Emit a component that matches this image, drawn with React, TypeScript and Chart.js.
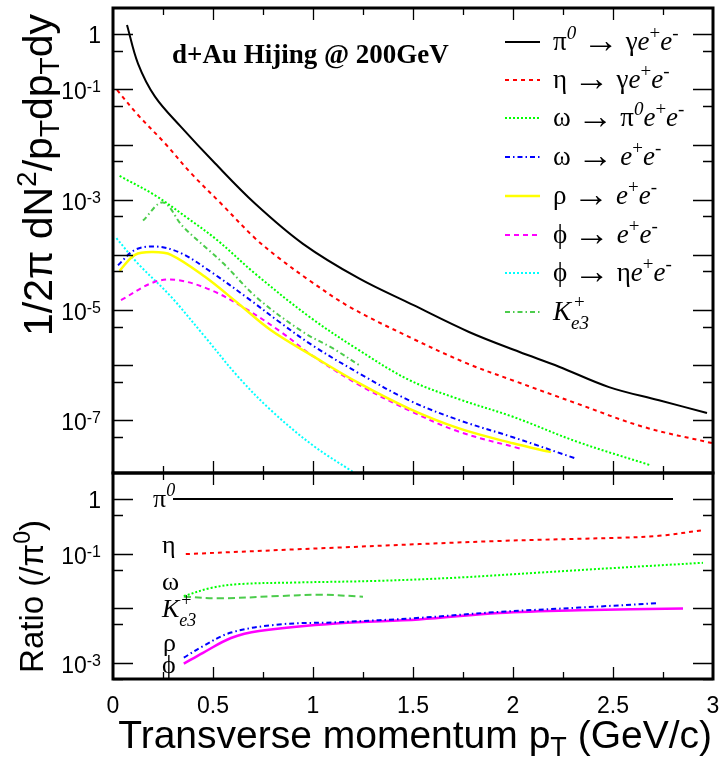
import React, { useEffect, useRef } from 'react';
import { Chart, registerables } from 'chart.js';

Chart.register(...registerables);

// ---------------- data: top panel (yields) ----------------
const pi0Pt = [0.07, 0.125, 0.21, 0.34, 0.51, 0.71, 0.95, 1.23, 1.5, 1.78, 2.03, 2.23, 2.48, 2.73, 2.97];
const pi0Yield = [1.48, 0.295, 0.0741, 0.0209, 4.57e-3, 8.51e-4, 1.58e-4, 3.72e-5, 1.23e-5, 3.98e-6, 1.74e-6, 9.33e-7, 3.98e-7, 2.29e-7, 1.35e-7];

const etaPt = [0.02, 0.125, 0.26, 0.39, 0.54, 0.71, 0.83, 0.98, 1.18, 1.48, 1.77, 2.0, 2.32, 2.65, 3.0];
const etaYield = [0.0977, 0.0343, 0.0105, 3.02e-3, 8.51e-4, 2.0e-4, 8.71e-5, 3.47e-5, 1.15e-5, 3.24e-6, 1.07e-6, 5.25e-7, 2.0e-7, 7.59e-8, 3.8e-8];

const omegaDalitzPt = [0.033, 0.21, 0.375, 0.52, 0.71, 0.98, 1.23, 1.48, 1.73, 2.0, 2.32, 2.69];
const omegaDalitzYield = [2.69e-3, 1.2e-3, 4.57e-4, 1.86e-4, 4.57e-5, 7.59e-6, 1.86e-6, 5.37e-7, 2.4e-7, 1.15e-7, 4.07e-8, 1.51e-8];

const omegaEEPt = [0.025, 0.11, 0.22, 0.34, 0.49, 0.675, 0.84, 1.0, 1.23, 1.48, 1.73, 2.0, 2.31];
const omegaEEYield = [6.46e-5, 1.23e-4, 1.41e-4, 1.07e-4, 4.9e-5, 1.62e-5, 5.75e-6, 2.24e-6, 7.08e-7, 2.29e-7, 1.0e-7, 4.9e-8, 2.04e-8];

const rhoPt = [0.033, 0.11, 0.2, 0.29, 0.46, 0.625, 0.79, 1.0, 1.23, 1.48, 1.73, 2.0, 2.19];
const rhoYield = [5.13e-5, 1.0e-4, 1.12e-4, 1.0e-4, 3.98e-5, 1.32e-5, 4.27e-6, 1.45e-6, 4.68e-7, 1.62e-7, 7.08e-8, 3.8e-8, 2.63e-8];

const phiEEPt = [0.04, 0.21, 0.325, 0.49, 0.66, 0.84, 1.0, 1.23, 1.48, 1.73, 2.04];
const phiEEYield = [1.51e-5, 3.24e-5, 3.47e-5, 2.29e-5, 1.07e-5, 3.98e-6, 1.45e-6, 4.37e-7, 1.51e-7, 6.17e-8, 3.02e-8];

const phiEtaPt = [0.017, 0.125, 0.29, 0.46, 0.625, 0.79, 1.0, 1.2];
const phiEtaYield = [2.0e-4, 6.92e-5, 1.74e-5, 3.24e-6, 6.17e-7, 1.51e-7, 3.47e-8, 1.15e-8];

const ke3Pt = [0.15, 0.25, 0.35, 0.55, 0.72, 0.95, 1.1, 1.23];
const ke3Yield = [4.17e-4, 8.91e-4, 3.24e-4, 7.08e-5, 1.66e-5, 3.98e-6, 2.0e-6, 1.0e-6];

// ---------------- data: bottom panel (ratio to pi0) ----------------
const ratioPi0Pt = [0.3, 2.8];
const ratioPi0 = [1, 1];
const ratioEtaPt = [0.364, 1.13, 1.93, 2.53, 2.73, 2.96];
const ratioEta = [0.0977, 0.129, 0.17, 0.195, 0.211, 0.272];
const ratioOmegaPt = [0.354, 0.49, 0.63, 0.93, 1.33, 1.73, 2.13, 2.53, 2.95];
const ratioOmega = [0.0166, 0.0234, 0.0275, 0.0295, 0.0316, 0.0363, 0.0447, 0.055, 0.0676];
const ratioKe3Pt = [0.354, 0.53, 0.83, 1.03, 1.25];
const ratioKe3 = [0.0162, 0.0151, 0.0166, 0.0176, 0.0162];
const ratioRhoPt = [0.354, 0.45, 0.59, 0.83, 1.13, 1.53, 1.93, 2.33, 2.73];
const ratioRho = [1.23e-3, 2.0e-3, 3.55e-3, 5.01e-3, 5.5e-3, 6.61e-3, 8.51e-3, 0.0102, 0.0123];
const ratioPhiPt = [0.354, 0.45, 0.59, 0.73, 1.13, 1.53, 1.93, 2.33, 2.85];
const ratioPhi = [9.55e-4, 1.51e-3, 2.82e-3, 3.8e-3, 5.25e-3, 6.17e-3, 8.13e-3, 9.12e-3, 9.77e-3];

// axis ranges / labels
const xMin = 0;
const xMax = 3;
const topMin = 1.1e-8;
const topMax = 3;
const ratioMin = 5e-4;
const ratioMax = 3;
const topLabelExps = [0, -1, -3, -5, -7];
const ratioLabelExps = [0, -1, -3];

const SANS = '"Liberation Sans", Arial, sans-serif';
const SERIF = '"Liberation Serif", "Times New Roman", serif';

const C_RED = '#ff0000';
const C_GREEN = '#00ff00';
const C_BLUE = '#0000ff';
const C_YELLOW = '#ffff00';
const C_MAGENTA = '#ff00ff';
const C_CYAN = '#00ffff';
const C_KE3 = '#4ccc4c';

const DASH = [4, 4];
const DASH_M = [5, 4];
const DOT = [2, 2];
const DASHDOT = [5, 3, 1.5, 3];

type Seg = { t: string; f: string; dy?: number; noAdv?: boolean; dx?: number };

function drawRich(ctx: CanvasRenderingContext2D, segs: Seg[], x: number, y: number) {
  let cx = x;
  for (const s of segs) {
    ctx.font = s.f;
    ctx.fillText(s.t, cx + (s.dx || 0), y + (s.dy || 0));
    if (!s.noAdv) cx += ctx.measureText(s.t).width + (s.dx || 0);
  }
  return cx - x;
}
function richWidth(ctx: CanvasRenderingContext2D, segs: Seg[]) {
  let w = 0;
  for (const s of segs) {
    ctx.font = s.f;
    if (!s.noAdv) w += ctx.measureText(s.t).width + (s.dx || 0);
  }
  return w;
}

function mk(xs: number[], ys: number[]) {
  return xs.map((x, i) => ({ x, y: ys[i] }));
}

function ds(label: string, xs: number[], ys: number[], axis: string, color: string, dash: number[], width = 2) {
  return {
    label,
    data: mk(xs, ys),
    yAxisID: axis,
    borderColor: color,
    backgroundColor: color,
    borderDash: dash,
    borderWidth: width,
    pointRadius: 0,
    fill: false,
    tension: 0.35,
    borderCapStyle: 'butt' as const,
  };
}

function logTickVals(min: number, max: number) {
  const out: { v: number; major: boolean }[] = [];
  for (let e = Math.floor(Math.log10(min)) - 1; e <= Math.ceil(Math.log10(max)); e++) {
    for (const m of [1, 5]) {
      const v = m * Math.pow(10, e);
      if (v >= min && v <= max) out.push({ v, major: m === 1 });
    }
  }
  return out;
}

function drawPowLabel(ctx: CanvasRenderingContext2D, exp: number, xr: number, y: number) {
  const big = `23px ${SANS}`;
  const small = `16px ${SANS}`;
  ctx.textAlign = 'left';
  ctx.textBaseline = 'alphabetic';
  ctx.fillStyle = '#000';
  if (exp === 0) {
    ctx.font = big;
    const w = ctx.measureText('1').width;
    ctx.fillText('1', xr - w, y + 9);
    return;
  }
  const sup = String(exp);
  ctx.font = small;
  const ws = ctx.measureText(sup).width;
  ctx.font = big;
  const wb = ctx.measureText('10').width;
  ctx.fillText('10', xr - ws - wb, y + 10);
  ctx.font = small;
  ctx.fillText(sup, xr - ws, y + 3);
}

const decorPlugin = {
  id: 'decor',
  afterDraw(chart: any) {
    const ctx: CanvasRenderingContext2D = chart.ctx;
    const xs = chart.scales.x;
    const yT = chart.scales.yTop;
    const yR = chart.scales.yRatio;
    const L = chart.chartArea.left;
    const R = chart.chartArea.right;
    ctx.save();
    ctx.setLineDash([]);

    // ---- ticks ----
    ctx.strokeStyle = '#000';
    const panels = [
      { s: yT, min: topMin, max: topMax },
      { s: yR, min: ratioMin, max: ratioMax },
    ];
    for (const p of panels) {
      for (const t of logTickVals(p.min, p.max)) {
        const y = Math.round(p.s.getPixelForValue(t.v)) + 0.5;
        const len = t.major ? 20 : 10;
        ctx.lineWidth = 1.3;
        ctx.beginPath();
        ctx.moveTo(L, y);
        ctx.lineTo(L + len, y);
        ctx.moveTo(R, y);
        ctx.lineTo(R - len, y);
        ctx.stroke();
      }
      for (let k = 1; k < 12; k++) {
        const v = k * 0.25;
        const x = Math.round(xs.getPixelForValue(v)) + 0.5;
        const len = k % 2 === 0 ? 12 : 7;
        ctx.lineWidth = 1.3;
        ctx.beginPath();
        ctx.moveTo(x, p.s.top);
        ctx.lineTo(x, p.s.top + len);
        ctx.moveTo(x, p.s.bottom);
        ctx.lineTo(x, p.s.bottom - len);
        ctx.stroke();
      }
    }

    // ---- frames ----
    ctx.lineWidth = 3;
    ctx.strokeRect(L, yT.top, R - L, yT.bottom - yT.top);
    ctx.strokeRect(L, yR.top, R - L, yR.bottom - yR.top);

    // ---- y tick labels ----
    for (const e of topLabelExps) drawPowLabel(ctx, e, 101, yT.getPixelForValue(Math.pow(10, e)));
    for (const e of ratioLabelExps) drawPowLabel(ctx, e, 101, yR.getPixelForValue(Math.pow(10, e)));

    ctx.fillStyle = '#000';
    ctx.textAlign = 'left';
    ctx.textBaseline = 'alphabetic';

    // ---- axis titles ----
    const tBig = `41px ${SANS}`;
    const tSmall = `28px ${SANS}`;
    const yTitle: Seg[] = [
      { t: '1/2π dN', f: tBig },
      { t: '2', f: tSmall, dy: -16 },
      { t: '/p', f: tBig },
      { t: 'T', f: tSmall, dy: 7 },
      { t: 'dp', f: tBig },
      { t: 'T', f: tSmall, dy: 7 },
      { t: 'dy', f: tBig },
    ];
    ctx.save();
    ctx.translate(52, 14);
    ctx.rotate(-Math.PI / 2);
    drawRich(ctx, yTitle, -richWidth(ctx, yTitle), 0);
    ctx.restore();

    const rBig = `33px ${SANS}`;
    const rSmall = `23px ${SANS}`;
    const rTitle: Seg[] = [
      { t: 'Ratio (/π', f: rBig },
      { t: '0', f: rSmall, dy: -13 },
      { t: ')', f: rBig },
    ];
    ctx.save();
    ctx.translate(43, 520);
    ctx.rotate(-Math.PI / 2);
    drawRich(ctx, rTitle, -richWidth(ctx, rTitle), 0);
    ctx.restore();

    const xBig = `39px ${SANS}`;
    const xSmall = `27px ${SANS}`;
    const xTitle: Seg[] = [
      { t: 'Transverse momentum p', f: xBig },
      { t: 'T', f: xSmall, dy: 8 },
      { t: ' (GeV/c)', f: xBig },
    ];
    drawRich(ctx, xTitle, 712 - richWidth(ctx, xTitle), 748);

    // ---- header text ----
    ctx.font = `bold 27px ${SERIF}`;
    ctx.fillText('d+Au Hijing @ 200GeV', 172, 63);

    // ---- legend ----
    const sz = 27;
    const U = `${sz}px ${SERIF}`;
    const I = `italic ${sz}px ${SERIF}`;
    const S = `${Math.round(sz * 0.7)}px ${SERIF}`;
    const SI = `italic ${Math.round(sz * 0.7)}px ${SERIF}`;
    const A = `${Math.round(sz * 1.35)}px ${SERIF}`;
    const sup = -11;
    const arrow: Seg[] = [
      { t: ' ', f: U },
      { t: '→', f: A, dy: 2 },
      { t: ' ', f: U },
    ];
    const ee: Seg[] = [
      { t: 'e', f: I },
      { t: '+', f: S, dy: sup },
      { t: 'e', f: I },
      { t: '-', f: S, dy: sup },
    ];
    const legendRows: { segs: Seg[]; color: string; dash: number[]; w: number }[] = [
      { segs: [{ t: 'π', f: U }, { t: '0', f: SI, dy: sup }, ...arrow, { t: 'γ', f: U }, ...ee], color: '#000', dash: [], w: 2 },
      { segs: [{ t: 'η', f: U }, ...arrow, { t: 'γ', f: U }, ...ee], color: C_RED, dash: DASH, w: 2 },
      { segs: [{ t: 'ω', f: U }, ...arrow, { t: 'π', f: U }, { t: '0', f: SI, dy: sup }, ...ee], color: C_GREEN, dash: DOT, w: 2 },
      { segs: [{ t: 'ω', f: U }, ...arrow, ...ee], color: C_BLUE, dash: DASHDOT, w: 2 },
      { segs: [{ t: 'ρ', f: U }, ...arrow, ...ee], color: C_YELLOW, dash: [], w: 2.5 },
      { segs: [{ t: 'ϕ', f: U }, ...arrow, ...ee], color: C_MAGENTA, dash: DASH_M, w: 2 },
      { segs: [{ t: 'ϕ', f: U }, ...arrow, { t: 'η', f: U }, ...ee], color: C_CYAN, dash: DOT, w: 2 },
      { segs: [{ t: 'K', f: I }, { t: '+', f: S, dy: -12, noAdv: true, dx: 3 }, { t: 'e3', f: SI, dy: 9 }], color: C_KE3, dash: DASHDOT, w: 2 },
    ];
    const rowY = [42, 80, 118, 157, 196, 235, 273, 312];
    legendRows.forEach((row, i) => {
      const y = rowY[i];
      ctx.strokeStyle = row.color;
      ctx.lineWidth = row.w;
      ctx.setLineDash(row.dash);
      ctx.beginPath();
      ctx.moveTo(505, y);
      ctx.lineTo(540, y);
      ctx.stroke();
      ctx.setLineDash([]);
      ctx.fillStyle = '#000';
      drawRich(ctx, row.segs, 553, y + 8);
    });

    // ---- ratio panel labels ----
    const rl = 26;
    const RU = `${rl}px ${SERIF}`;
    const RI = `italic ${rl}px ${SERIF}`;
    const RS = `${Math.round(rl * 0.7)}px ${SERIF}`;
    const RSI = `italic ${Math.round(rl * 0.7)}px ${SERIF}`;
    drawRich(ctx, [{ t: 'π', f: RU }, { t: '0', f: RSI, dy: -11 }], 153, 507);
    drawRich(ctx, [{ t: 'η', f: RU }], 162, 553);
    drawRich(ctx, [{ t: 'ω', f: RU }], 162, 590);
    drawRich(ctx, [{ t: 'K', f: RI }, { t: '+', f: RS, dy: -11, noAdv: true, dx: 2 }, { t: 'e3', f: RSI, dy: 9 }], 162, 617);
    drawRich(ctx, [{ t: 'ρ', f: RU }], 163, 651);
    drawRich(ctx, [{ t: 'ϕ', f: RU }], 162, 673);

    ctx.restore();
  },
};

export default function App() {
  const ref = useRef<HTMLCanvasElement>(null);
  useEffect(() => {
    const canvas = ref.current;
    if (!canvas) return;
    const datasets = [
      ds('π0 → γee', pi0Pt, pi0Yield, 'yTop', '#000', [], 2),
      ds('η → γee', etaPt, etaYield, 'yTop', C_RED, DASH),
      ds('ω → π0ee', omegaDalitzPt, omegaDalitzYield, 'yTop', C_GREEN, DOT),
      ds('ω → ee', omegaEEPt, omegaEEYield, 'yTop', C_BLUE, DASHDOT),
      ds('ρ → ee', rhoPt, rhoYield, 'yTop', C_YELLOW, [], 2.5),
      ds('φ → ee', phiEEPt, phiEEYield, 'yTop', C_MAGENTA, DASH_M),
      ds('φ → ηee', phiEtaPt, phiEtaYield, 'yTop', C_CYAN, DOT),
      ds('Ke3', ke3Pt, ke3Yield, 'yTop', C_KE3, DASHDOT),
      ds('ratio π0', ratioPi0Pt, ratioPi0, 'yRatio', '#000', [], 2),
      ds('ratio η', ratioEtaPt, ratioEta, 'yRatio', C_RED, DASH),
      ds('ratio ω', ratioOmegaPt, ratioOmega, 'yRatio', C_GREEN, DOT),
      ds('ratio Ke3', ratioKe3Pt, ratioKe3, 'yRatio', C_KE3, [7, 4]),
      ds('ratio ρ', ratioRhoPt, ratioRho, 'yRatio', C_BLUE, DASHDOT),
      ds('ratio φ', ratioPhiPt, ratioPhi, 'yRatio', C_MAGENTA, [], 2.5),
    ];
    const chart = new Chart(canvas, {
      type: 'line',
      data: { datasets } as any,
      options: {
        animation: false,
        responsive: false,
        maintainAspectRatio: false,
        events: [],
        layout: { padding: { left: 113, top: 8, right: 9, bottom: 0 } },
        plugins: { legend: { display: false }, tooltip: { enabled: false } },
        scales: {
          x: {
            type: 'linear',
            min: xMin,
            max: xMax,
            position: 'bottom',
            grid: { display: false, drawTicks: false },
            border: { display: false },
            ticks: {
              stepSize: 0.5,
              autoSkip: false,
              maxRotation: 0,
              color: '#000',
              padding: 14,
              font: { family: SANS, size: 23 },
              callback: (v: any) => String(Math.round(Number(v) * 100) / 100),
            },
            afterFit: (s: any) => {
              s.height = 85;
              s.paddingLeft = 0;
              s.paddingRight = 0;
            },
          },
          yTop: {
            type: 'logarithmic',
            min: topMin,
            max: topMax,
            position: 'left',
            stack: 'panels',
            stackWeight: 465,
            weight: 2,
            display: false,
          },
          yRatio: {
            type: 'logarithmic',
            min: ratioMin,
            max: ratioMax,
            position: 'left',
            stack: 'panels',
            stackWeight: 206,
            weight: 1,
            display: false,
          },
        },
      } as any,
      plugins: [decorPlugin],
    });
    return () => chart.destroy();
  }, []);
  return (
    <div style={{ position: 'absolute', left: 0, top: 0, width: 722, height: 764, background: '#fff' }}>
      <canvas ref={ref} width={722} height={764} style={{ width: 722, height: 764, display: 'block' }} />
    </div>
  );
}
